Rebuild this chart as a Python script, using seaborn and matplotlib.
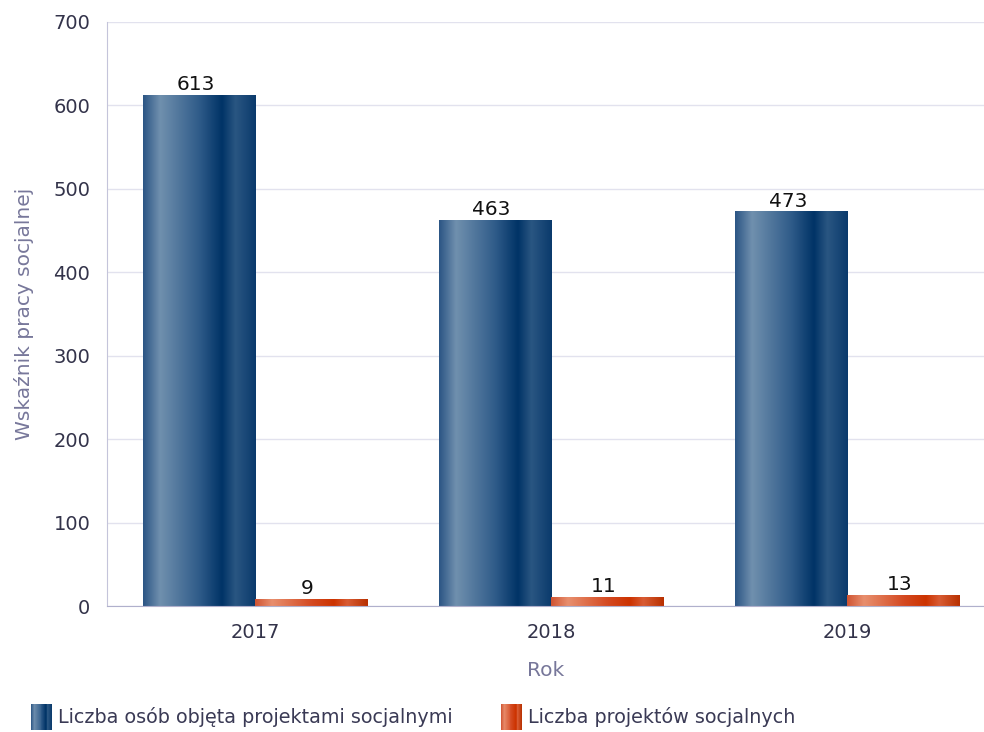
import numpy as np
import pandas as pd
import matplotlib
matplotlib.use("Agg")
import matplotlib.pyplot as plt
import seaborn as sns
from matplotlib.colors import LinearSegmentedColormap
from matplotlib.legend_handler import HandlerBase
from matplotlib.patches import Rectangle, Patch

years = ["2017", "2018", "2019"]
series_names = ["Liczba osób objęta projektami socjalnymi", "Liczba projektów socjalnych"]
persons = [613, 463, 473]
projects = [9, 11, 13]
yticks = [0, 100, 200, 300, 400, 500, 600, 700]

df = pd.DataFrame({
    "Rok": years * 2,
    "value": persons + projects,
    "series": [series_names[0]] * 3 + [series_names[1]] * 3,
})

stops = [0.0, 0.15, 0.5, 0.7, 0.82, 1.0]
blue_cmap = LinearSegmentedColormap.from_list(
    "bl", list(zip(stops, ["#2b5584", "#7090ae", "#2f5b89", "#003366", "#2a5682", "#0a3a6c"])))
orange_cmap = LinearSegmentedColormap.from_list(
    "or", list(zip(stops, ["#d05432", "#e88f6e", "#d44a22", "#cc3300", "#d85c34", "#b83000"])))
cmaps = [blue_cmap, orange_cmap]

sns.set_style("white")
plt.rcParams['font.family'] = ['DejaVu Sans']

fig = plt.figure(figsize=(9.84, 7.32), dpi=100)
ax = fig.add_axes([0.1087, 0.172, 0.891, 0.798])

sns.barplot(data=df, x="Rok", y="value", hue="series", palette=["#1f4e7e", "#cc3300"],
            width=0.757, gap=0, ax=ax, legend=False, saturation=1, errorbar=None)

ax.set_xlim(-0.5, 2.46)
ax.set_ylim(0, 700)
ax.set_autoscale_on(False)

grad = np.linspace(0, 1, 256).reshape(1, -1)
vals_all = [persons, projects]
for k, cont in enumerate(ax.containers):
    for bar, v in zip(cont, vals_all[k]):
        x0, y0 = bar.get_x(), bar.get_y()
        w, h = bar.get_width(), bar.get_height()
        bar.set_facecolor("none")
        bar.set_edgecolor("none")
        im = ax.imshow(grad, cmap=cmaps[k], aspect="auto",
                       extent=[x0, x0 + w, y0, y0 + h], zorder=2, interpolation="bicubic")
        im.set_clip_path(bar)
        ax.text(x0 + w / 2 - 0.012, y0 + h + 1, str(v), ha="center", va="bottom",
                fontsize=14.5, color="#111111", zorder=3)

ax.set_yticks(yticks)
ax.yaxis.grid(True, color="#e2e2ee", linewidth=1)
ax.set_axisbelow(True)
for s in ["top", "right"]:
    ax.spines[s].set_visible(False)
ax.spines["left"].set_color("#c4c4da")
ax.spines["bottom"].set_color("#b0b0cc")
ax.tick_params(axis="both", length=0, labelsize=14, colors="#33334a")
ax.tick_params(axis="x", pad=12)
ax.tick_params(axis="y", pad=12)
ax.set_ylabel("Wskaźnik pracy socjalnej", fontsize=14.5, color="#77779a", labelpad=14)
ax.set_xlabel("Rok", fontsize=14.5, color="#77779a", labelpad=14)


class GradHandler(HandlerBase):
    def __init__(self, cmap):
        super().__init__()
        self.cmap = cmap

    def create_artists(self, legend, orig_handle, xdescent, ydescent, width, height, fontsize, trans):
        n = 24
        arts = []
        for i in range(n):
            r = Rectangle((-xdescent + width * i / n, -ydescent - 2), width / n * 1.05, height + 4,
                          facecolor=self.cmap((i + 0.5) / n), edgecolor="none", transform=trans)
            arts.append(r)
        return arts


h1 = Patch(color="#1f4e7e")
h2 = Patch(color="#cc3300")
leg = fig.legend([h1, h2], series_names, loc="lower left", bbox_to_anchor=(0.014, -0.017),
                 ncol=2, frameon=False, fontsize=13.8, handlelength=1.08, handleheight=1.3,
                 handletextpad=0.35, columnspacing=2.5,
                 handler_map={h1: GradHandler(blue_cmap), h2: GradHandler(orange_cmap)})
for t in leg.get_texts():
    t.set_color("#3a3a55")

fig.savefig("out.png", dpi=100)
